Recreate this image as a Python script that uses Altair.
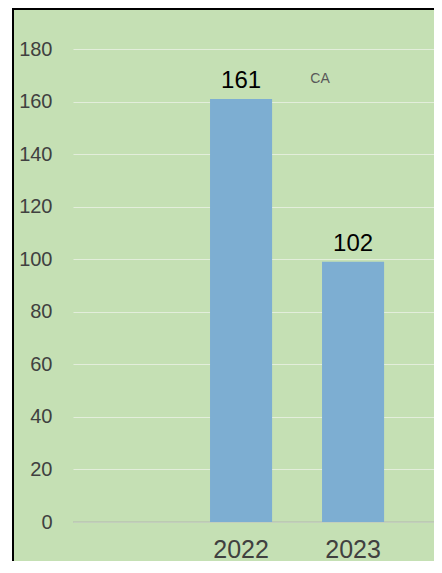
import altair as alt
import pandas as pd

# Data
categories = ["2022", "2023"]
values = [161, 99]
value_labels = ["161", "102"]
y_ticks = [0, 20, 40, 60, 80, 100, 120, 140, 160, 180]
annotation_text = ["CA"]
annotation_value = [167]

df = pd.DataFrame({"year": categories, "value": values, "label": value_labels})
ann = pd.DataFrame({"text": annotation_text, "value": annotation_value})
one = pd.DataFrame({"a": [0]})

W, H = 361, 473
CANVAS_H = 553

x_scale = alt.Scale(domain=categories, paddingInner=0.446, paddingOuter=0.8346, align=0.733)
x_enc = alt.X("year:N", scale=x_scale, sort=categories,
              axis=alt.Axis(title=None, ticks=False, domain=False, labelAngle=0,
                            labelFontSize=25, labelColor="#404040", labelPadding=15,
                            labelFont="Liberation Sans", grid=False))
y_enc = alt.Y("value:Q", scale=alt.Scale(domain=[0, 180], nice=False),
              axis=alt.Axis(title=None, values=y_ticks, ticks=False, domain=False,
                            labelFontSize=20, labelColor="#404040", labelPadding=21,
                            labelFont="Liberation Sans",
                            grid=True, gridColor="#E3EEDB", gridWidth=1.2))

bars = alt.Chart(df).mark_bar(color="#7DAED2").encode(x=x_enc, y=y_enc)

labels = alt.Chart(df).mark_text(baseline="alphabetic", dy=-11, fontSize=24,
                                 font="Liberation Sans", color="#000000").encode(
    x=alt.X("year:N", sort=categories), y="value:Q", text="label:N")

zero = alt.Chart(one).mark_rule(color="#B9C4B2", strokeWidth=1.5).encode(y=alt.datum(0))

annot = alt.Chart(ann).mark_text(fontSize=14, font="Liberation Sans", color="#595959",
                                 baseline="alphabetic").encode(
    x=alt.value(247), y="value:Q", text="text:N")

white_strip = alt.Chart(one).mark_rect(color="white").encode(
    x=alt.value(-65), x2=alt.value(-61), y=alt.value(-41), y2=alt.value(CANVAS_H))
left_border = alt.Chart(one).mark_rule(color="black", strokeWidth=2).encode(
    x=alt.value(-60), y=alt.value(-41), y2=alt.value(CANVAS_H))
top_border = alt.Chart(one).mark_rule(color="black", strokeWidth=2).encode(
    x=alt.value(-61), x2=alt.value(W), y=alt.value(-40))

chart = alt.layer(zero, bars, labels, annot, white_strip, left_border, top_border).properties(
    width=W, height=H,
    autosize=alt.AutoSizeParams(type="none"),
    padding={"left": 65, "top": 41, "right": 0, "bottom": CANVAS_H - 41 - H},
    background="#C5E0B4",
).configure_view(stroke=None)

chart.save("out.html", embed_options={"renderer": "svg", "actions": False})
